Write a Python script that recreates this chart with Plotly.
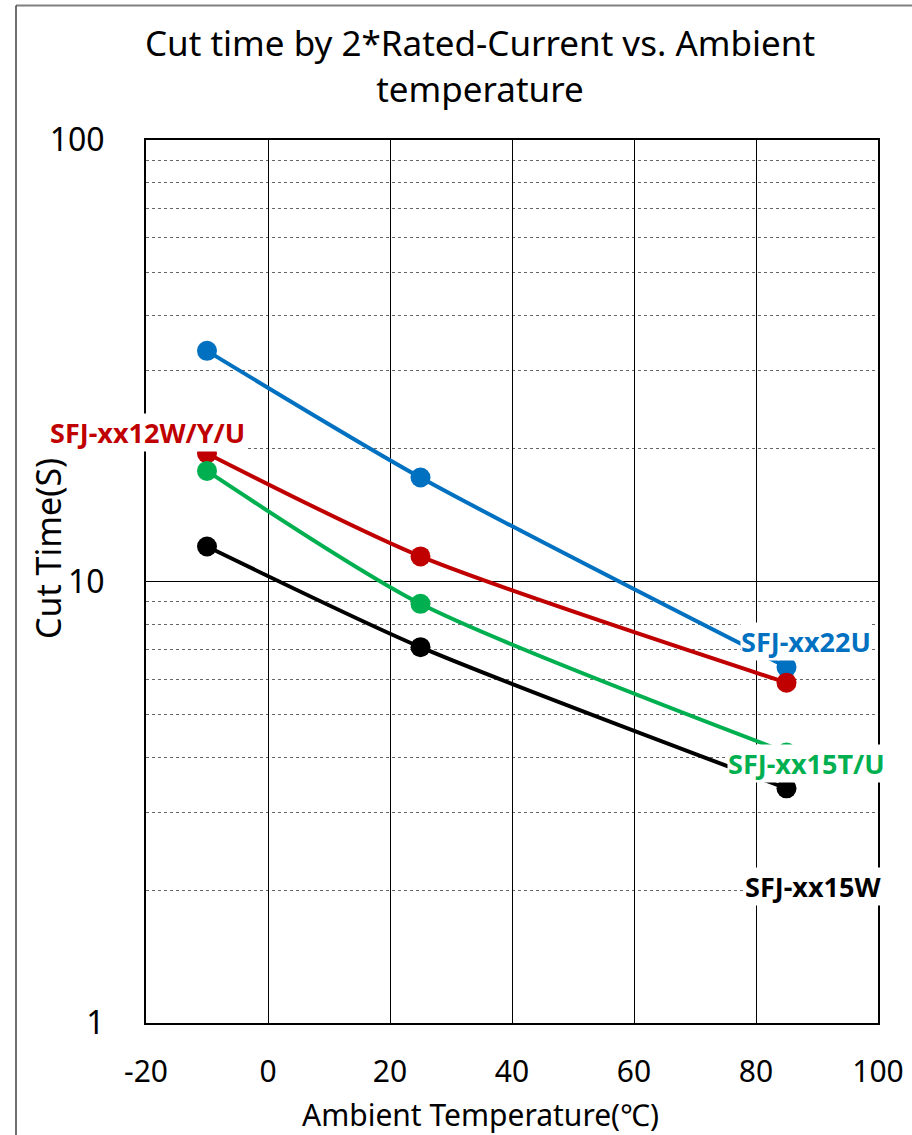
import plotly.graph_objects as go

temps = [-10, 25, 85]
s22u = [33.3, 17.2, 6.4]
s12wyu = [19.5, 11.4, 5.9]
s15tu = [17.8, 8.9, 4.1]
s15w = [12.0, 7.1, 3.4]

xticks = [-20, 0, 20, 40, 60, 80, 100]
xticktext = ["-20", "0", "20", "40", "60", "80", "100"]

series = [
    ("SFJ-xx22U", s22u, "#0070C0"),
    ("SFJ-xx12W/Y/U", s12wyu, "#C00000"),
    ("SFJ-xx15T/U", s15tu, "#00B050"),
    ("SFJ-xx15W", s15w, "#000000"),
]

FONT = "Noto Sans"
W, H = 912, 1135
L, R, T, B = 146, 878, 140, 1023
PW, PH = R - L, B - T


def px(xp):
    return (xp - L) / PW


def py(yp):
    return 1 - (yp - T) / PH


fig = go.Figure()
for name, vals, col in series:
    fig.add_trace(go.Scatter(
        x=temps, y=vals, name=name, mode="lines+markers",
        line=dict(color=col, width=4, shape="spline", smoothing=0.7),
        marker=dict(color=col, size=20),
        showlegend=False, cliponaxis=False,
    ))

labels = [
    ("SFJ-xx12W/Y/U", 147, 432, "#C00000"),
    ("SFJ-xx22U", 806, 641, "#0070C0"),
    ("SFJ-xx15T/U", 806, 763, "#00B050"),
    ("SFJ-xx15W", 813, 886, "#000000"),
]
for text, xp, yp, col in labels:
    fig.add_annotation(
        text=f"<b>{text}</b>", xref="paper", yref="paper",
        x=px(xp), y=py(yp), xanchor="center", yanchor="middle",
        showarrow=False, font=dict(family=FONT, size=27, color=col),
        bgcolor="white", borderpad=0,
    )

# axis titles
fig.add_annotation(text="Ambient Temperature(℃)", xref="paper", yref="paper",
                   x=px(480), y=py(1114), xanchor="center", yanchor="middle",
                   showarrow=False, font=dict(family=FONT, size=30, color="black"))
fig.add_annotation(text="Cut Time(S)", xref="paper", yref="paper",
                   x=px(48), y=py(548), xanchor="center", yanchor="middle",
                   textangle=-90,
                   showarrow=False, font=dict(family=FONT, size=34, color="black"))

# outer chart-area border (extends beyond the page on right/bottom)
fig.add_shape(type="line", xref="paper", yref="paper",
              x0=px(16), x1=px(W + 20), y0=py(5.5), y1=py(5.5),
              line=dict(color="#808080", width=2))
fig.add_shape(type="line", xref="paper", yref="paper",
              x0=px(16), x1=px(16), y0=py(5.5), y1=py(H + 20),
              line=dict(color="#404040", width=1.5))

fig.update_layout(
    width=W, height=H,
    margin=dict(l=L, r=W - R, t=T, b=H - B, autoexpand=False),
    paper_bgcolor="white", plot_bgcolor="white",
    font=dict(family=FONT, color="black"),
    title=dict(text="Cut time by 2*Rated-Current vs. Ambient<br>temperature",
               x=480 / W, xanchor="center", y=1 - 56 / H, yanchor="middle",
               font=dict(family=FONT, size=35, color="black")),
    xaxis=dict(range=[-20, 100], tickvals=xticks, ticktext=xticktext,
               showgrid=True, gridcolor="black", gridwidth=1,
               showline=True, linecolor="black", linewidth=2, mirror=True,
               ticks="", ticklabelstandoff=21, zeroline=False, automargin=False,
               tickfont=dict(size=30, family=FONT)),
    yaxis=dict(type="log", range=[0, 2],
               tickvals=[1, 10, 100], ticktext=["1", "10", "100"],
               showgrid=True, gridcolor="black", gridwidth=1,
               showline=True, linecolor="black", linewidth=2, mirror=True,
               ticks="", ticklabelstandoff=33, automargin=False,
               tickfont=dict(size=32, family=FONT),
               minor=dict(dtick="D1", showgrid=True, gridcolor="#666666",
                          griddash="dot", gridwidth=1, ticks="")),
)

fig.write_html("out.html")
